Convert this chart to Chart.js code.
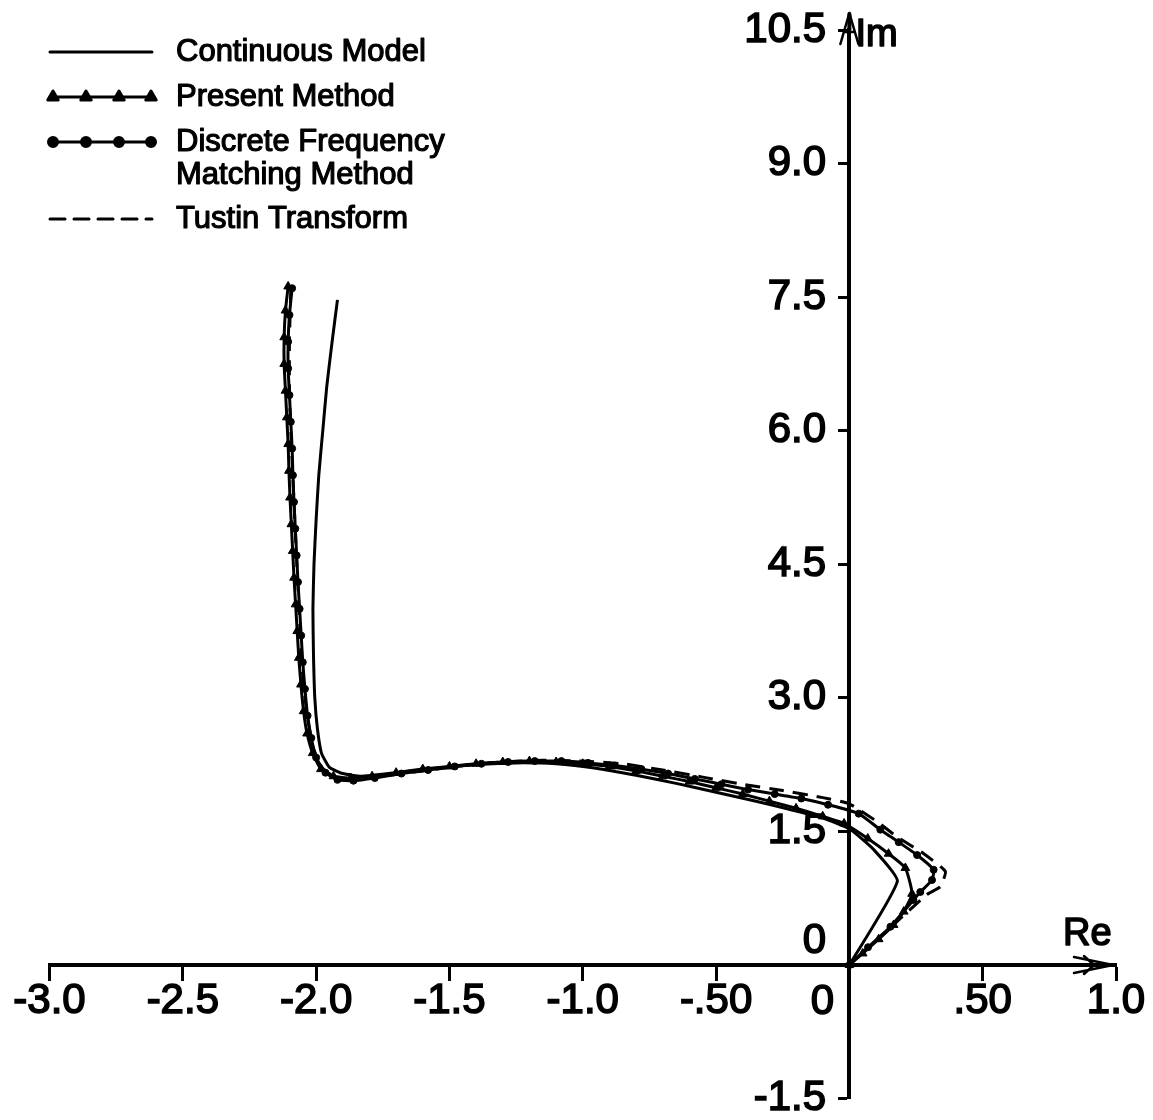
<!DOCTYPE html>
<html>
<head>
<meta charset="utf-8">
<script src="https://cdn.jsdelivr.net/npm/chart.js@4/dist/chart.umd.min.js"></script>
<style>
  html, body { margin: 0; padding: 0; background: #fff; }
  canvas { display: block; }
</style>
</head>
<body>
<canvas id="nyquist" width="1153" height="1120"></canvas>
<script>
// Axis ticks
const xTickValues = [-3, -2.5, -2, -1.5, -1, -0.5, 0, 0.5, 1];
const xTickLabels = ['-3.0', '-2.5', '-2.0', '-1.5', '-1.0', '-.50', '0', '.50', '1.0'];
const yTickValues = [-1.5, 0, 1.5, 3, 4.5, 6, 7.5, 9, 10.5];
const yTickLabels = ['-1.5', '0', '1.5', '3.0', '4.5', '6.0', '7.5', '9.0', '10.5'];

const seriesNames = [
  ['Continuous Model'],
  ['Present Method'],
  ['Discrete Frequency', 'Matching Method'],
  ['Tustin Transform']
];

// Continuous model (Re, Im)
const continuousRe = [-1.92, -1.94, -1.96, -1.975, -1.99, -2.0, -2.008, -2.012, -2.01, -2.005, -1.995, -1.98, -1.95, -1.90, -1.83,
  -1.70, -1.55, -1.40, -1.25, -1.10, -0.95, -0.80, -0.65, -0.50, -0.35, -0.20, -0.10, 0.0, 0.09, 0.18, 0.0];
const continuousIm = [7.47, 7.0, 6.5, 6.0, 5.5, 5.0, 4.5, 4.0, 3.5, 3.0, 2.65, 2.38, 2.22, 2.15, 2.12,
  2.16, 2.21, 2.25, 2.27, 2.26, 2.21, 2.13, 2.04, 1.94, 1.84, 1.73, 1.65, 1.53, 1.30, 0.94, 0.0];

// Present method
const presentRe = [-2.105, -2.115, -2.12, -2.12, -2.115, -2.11, -2.105, -2.102, -2.098, -2.093, -2.088, -2.083, -2.077, -2.071, -2.065,
  -2.057, -2.047, -2.034, -2.013, -1.982, -1.935, -1.87, -1.79, -1.70, -1.60, -1.50, -1.40, -1.30, -1.20, -1.10, -1.00,
  -0.90, -0.80, -0.70, -0.60, -0.50, -0.40, -0.30, -0.20, -0.10, -0.02, 0.069, 0.147, 0.21, 0.235, 0.204, 0.166, 0.11, 0.05, 0.0];
const presentIm = [7.62, 7.35, 7.05, 6.75, 6.45, 6.15, 5.85, 5.55, 5.25, 4.95, 4.65, 4.35, 4.05, 3.75, 3.45,
  3.15, 2.85, 2.6, 2.38, 2.2, 2.12, 2.10, 2.12, 2.16, 2.20, 2.23, 2.26, 2.28, 2.29, 2.28, 2.26,
  2.23, 2.18, 2.12, 2.06, 1.99, 1.92, 1.84, 1.76, 1.67, 1.59, 1.42, 1.25, 1.09, 0.80, 0.60, 0.45, 0.29, 0.13, 0.0];

// Discrete frequency matching method
const discreteRe = [-2.09, -2.10, -2.105, -2.105, -2.10, -2.095, -2.09, -2.087, -2.083, -2.078, -2.073, -2.068, -2.062, -2.056, -2.05,
  -2.042, -2.032, -2.018, -2.0, -1.965, -1.92, -1.86, -1.78, -1.68, -1.58, -1.48, -1.38, -1.28, -1.18, -1.08, -0.98,
  -0.88, -0.78, -0.68, -0.58, -0.48, -0.38, -0.28, -0.18, -0.08, 0.035, 0.116, 0.185, 0.254, 0.316, 0.31, 0.266, 0.24, 0.154, 0.07, 0.0];
const discreteIm = [7.6, 7.3, 7.0, 6.7, 6.4, 6.1, 5.8, 5.5, 5.2, 4.9, 4.6, 4.3, 4.0, 3.7, 3.4,
  3.1, 2.8, 2.55, 2.33, 2.16, 2.08, 2.07, 2.10, 2.15, 2.19, 2.23, 2.26, 2.28, 2.29, 2.29, 2.27,
  2.24, 2.20, 2.15, 2.09, 2.03, 1.97, 1.92, 1.87, 1.80, 1.70, 1.52, 1.38, 1.235, 1.07, 0.955, 0.82, 0.73, 0.43, 0.2, 0.0];

// Tustin transform
const tustinRe = [-2.095, -2.10, -2.10, -2.092, -2.083, -2.074, -2.064, -2.054, -2.036, -2.012, -1.978, -1.93, -1.86, -1.75, -1.6,
  -1.45, -1.3, -1.15, -1.0, -0.85, -0.7, -0.55, -0.4, -0.25, -0.1, 0.0, 0.104, 0.179, 0.279, 0.36, 0.341, 0.29, 0.0];
const tustinIm = [7.6, 7.0, 6.4, 5.8, 5.2, 4.6, 4.0, 3.4, 2.85, 2.45, 2.22, 2.11, 2.09, 2.12, 2.18,
  2.24, 2.28, 2.30, 2.29, 2.26, 2.19, 2.11, 2.03, 1.96, 1.88, 1.81, 1.61, 1.44, 1.25, 1.05, 0.88, 0.79, 0.0];

const toPoints = (re, im) => re.map((v, i) => ({ x: v, y: im[i] }));

const FONT = '"Liberation Sans", Arial, Helvetica, sans-serif';
const INK = '#000';

function inkText(ctx, text, x, y) {
  ctx.fillText(text, x, y);
  ctx.strokeText(text, x, y);
}

// Legend, zero labels, axis arrows and axis names
const decorations = {
  id: 'decorations',
  afterDraw(chart) {
    const { ctx, scales: { x, y } } = chart;
    const x0 = x.getPixelForValue(0);
    const y0 = y.getPixelForValue(0);
    const xEnd = x.getPixelForValue(1);
    const yTop = y.getPixelForValue(10.5);

    ctx.save();
    ctx.strokeStyle = INK;
    ctx.fillStyle = INK;
    ctx.lineCap = 'round';
    ctx.lineJoin = 'round';

    // Im axis arrow
    ctx.lineWidth = 4;
    ctx.beginPath();
    ctx.moveTo(x0, yTop);
    ctx.lineTo(x0, yTop - 16);
    ctx.stroke();
    ctx.lineWidth = 2.5;
    ctx.beginPath();
    ctx.moveTo(x0 - 9, yTop + 14);
    ctx.lineTo(x0, yTop - 17);
    ctx.lineTo(x0 + 9, yTop + 14);
    ctx.moveTo(x0 - 5, yTop + 2);
    ctx.lineTo(x0 + 5, yTop + 2);
    ctx.stroke();

    // Re axis arrow
    ctx.beginPath();
    ctx.moveTo(xEnd - 42, y0 - 8);
    ctx.lineTo(xEnd - 3, y0);
    ctx.lineTo(xEnd - 42, y0 + 8);
    ctx.moveTo(xEnd - 32, y0 - 9);
    ctx.lineTo(xEnd - 22, y0);
    ctx.lineTo(xEnd - 32, y0 + 9);
    ctx.stroke();

    // axis names
    ctx.lineWidth = 1.6;
    ctx.font = '38px ' + FONT;
    ctx.textBaseline = 'middle';
    ctx.textAlign = 'left';
    inkText(ctx, 'Im', x0 + 6, yTop + 6);
    inkText(ctx, 'Re', xEnd - 53, y0 - 31);

    // zero labels sit off the crossing
    ctx.font = '42px ' + FONT;
    ctx.textAlign = 'center';
    inkText(ctx, yTickLabels[yTickValues.indexOf(0)], x0 - 35, y0 - 24);
    inkText(ctx, xTickLabels[xTickValues.indexOf(0)], x0 - 27, y0 + 37);

    // legend
    const rows = [52, 97, 142, 219];
    const lineFrom = 50, lineTo = 152, textX = 176;
    ctx.font = '31px ' + FONT;
    ctx.textAlign = 'left';
    chart.data.datasets.forEach((ds, i) => {
      const ry = rows[i];
      ctx.lineWidth = ds.borderWidth;
      ctx.setLineDash(ds.borderDash || []);
      ctx.beginPath();
      ctx.moveTo(lineFrom, ry);
      ctx.lineTo(lineTo, ry);
      ctx.stroke();
      ctx.setLineDash([]);
      if (ds.pointRadius > 0) {
        [53, 86, 119, 151].forEach(px => {
          Chart.helpers.drawPoint(ctx, {
            pointStyle: ds.pointStyle, radius: ds.pointRadius + 1, rotation: 0, borderWidth: 1
          }, px, ry);
          ctx.fill();
        });
      }
      ctx.lineWidth = 1.2;
      seriesNames[i].forEach((line, k) => {
        inkText(ctx, line, textX, ry + k * 33);
      });
    });
    ctx.restore();
  }
};

// the zero ticks are lettered separately, clear of the axes
const tickLabel = (values, labels, pad) => (value) => {
  const k = values.findIndex(v => Math.abs(v - value) < 1e-6);
  if (k < 0 || values[k] === 0) return '';
  return labels[k] + pad;
};

new Chart(document.getElementById('nyquist'), {
  type: 'scatter',
  data: {
    datasets: [
      {
        label: 'Continuous Model',
        data: toPoints(continuousRe, continuousIm),
        showLine: true, borderColor: INK, borderWidth: 3,
        pointRadius: 0, tension: 0.15
      },
      {
        label: 'Present Method',
        data: toPoints(presentRe, presentIm),
        showLine: true, borderColor: INK, backgroundColor: INK, borderWidth: 3,
        pointStyle: 'triangle', pointRadius: 5, pointBorderWidth: 1, tension: 0.15
      },
      {
        label: 'Discrete Frequency Matching Method',
        data: toPoints(discreteRe, discreteIm),
        showLine: true, borderColor: INK, backgroundColor: INK, borderWidth: 3,
        pointStyle: 'circle', pointRadius: 3.5, pointBorderWidth: 1, tension: 0.15
      },
      {
        label: 'Tustin Transform',
        data: toPoints(tustinRe, tustinIm),
        showLine: true, borderColor: INK, borderWidth: 3, borderDash: [15, 9],
        pointRadius: 0, tension: 0.15
      }
    ]
  },
  options: {
    responsive: false,
    animation: false,
    layout: { padding: { left: 49.5, right: 37, top: 30, bottom: 21.4 } },
    plugins: {
      legend: { display: false },
      tooltip: { enabled: false }
    },
    scales: {
      x: {
        type: 'linear',
        min: -3, max: 1,
        position: { y: 0 },
        afterBuildTicks: (axis) => { axis.ticks = xTickValues.map(v => ({ value: v })); },
        ticks: {
          color: INK,
          padding: 1.5,
          font: { family: FONT, size: 42, lineHeight: 1 },
          textStrokeColor: INK,
          textStrokeWidth: 1.6,
          maxRotation: 0,
          autoSkip: false,
          callback: tickLabel(xTickValues, xTickLabels, '')
        },
        grid: { drawOnChartArea: false, drawTicks: true, tickLength: 14, tickWidth: 3, tickColor: INK },
        border: { display: true, color: INK, width: 4 }
      },
      y: {
        type: 'linear',
        min: -1.5, max: 10.5,
        position: { x: 0 },
        afterBuildTicks: (axis) => { axis.ticks = yTickValues.map(v => ({ value: v })); },
        ticks: {
          color: INK,
          padding: 0,
          font: { family: FONT, size: 42, lineHeight: 1 },
          textStrokeColor: INK,
          textStrokeWidth: 1.6,
          autoSkip: false,
          callback: tickLabel(yTickValues, yTickLabels, '  ')
        },
        grid: { drawOnChartArea: false, drawTicks: true, tickLength: 9, tickWidth: 3, tickColor: INK },
        border: { display: true, color: INK, width: 4 }
      }
    }
  },
  plugins: [decorations]
});
</script>
</body>
</html>
